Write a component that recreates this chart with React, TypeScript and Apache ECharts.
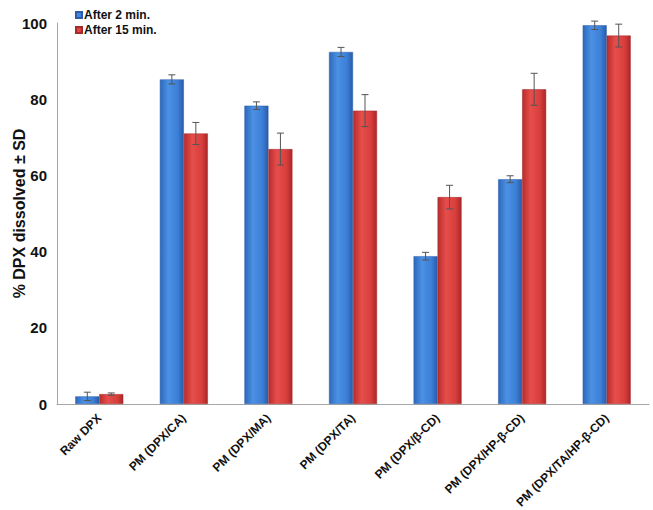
import React, { useEffect, useRef } from "react";
import * as echarts from "echarts";

const categories = [
  "Raw DPX",
  "PM (DPX/CA)",
  "PM (DPX/MA)",
  "PM (DPX/TA)",
  "PM (DPX/β-CD)",
  "PM (DPX/HP-β-CD)",
  "PM (DPX/TA/HP-β-CD)",
];
const after2 = [2.0, 85.2, 78.3, 92.4, 38.8, 59.0, 99.4];
const after2Sd = [1.1, 1.2, 1.0, 1.2, 1.0, 0.9, 1.1];
const after15 = [2.6, 71.0, 66.9, 77.0, 54.3, 82.6, 96.7];
const after15Sd = [0.3, 2.9, 4.2, 4.2, 3.1, 4.2, 3.0];
const yTicks = { min: 0, max: 100, interval: 20 };

const BAR_W = 24;

const blueGrad = new echarts.graphic.LinearGradient(0, 0, 1, 0, [
  { offset: 0, color: "#2d68bc" },
  { offset: 0.35, color: "#4b91e4" },
  { offset: 0.75, color: "#3c7fd7" },
  { offset: 1, color: "#2a5ba8" },
]);
const redGrad = new echarts.graphic.LinearGradient(0, 0, 1, 0, [
  { offset: 0, color: "#b82c2c" },
  { offset: 0.35, color: "#e64e4b" },
  { offset: 0.75, color: "#d83e3c" },
  { offset: 1, color: "#aa2727" },
]);

function errorSeries(vals: number[], sds: number[], offset: number) {
  return {
    type: "custom",
    silent: true,
    z: 10,
    data: vals.map((v, i) => [i, v, sds[i]]),
    renderItem: (params: any, api: any) => {
      const i = api.value(0);
      const v = api.value(1);
      const sd = api.value(2);
      const top = api.coord([i, v + sd]);
      const bot = api.coord([i, Math.max(0, v - sd)]);
      const x = top[0] + offset;
      const cap = 3.5;
      const style = { stroke: "#555", lineWidth: 1 };
      return {
        type: "group",
        children: [
          { type: "line", shape: { x1: x, y1: top[1], x2: x, y2: bot[1] }, style },
          { type: "line", shape: { x1: x - cap, y1: top[1], x2: x + cap, y2: top[1] }, style },
          { type: "line", shape: { x1: x - cap, y1: bot[1], x2: x + cap, y2: bot[1] }, style },
        ],
      };
    },
  };
}

export default function App() {
  const ref = useRef<HTMLDivElement>(null);
  useEffect(() => {
    if (!ref.current) return;
    const chart = echarts.init(ref.current, null, { renderer: "svg" });
    chart.setOption({
      animation: false,
      backgroundColor: "#ffffff",
      textStyle: { fontFamily: "Liberation Sans, Arial, sans-serif" },
      legend: {
        orient: "vertical",
        left: 70,
        top: 4,
        itemWidth: 6,
        itemHeight: 6,
        itemGap: 3,
        icon: "rect",
        textStyle: { fontSize: 12, fontWeight: "bold", color: "#111", padding: [0, 0, 0, -3] },
        data: ["After 2 min.", "After 15 min."],
      },
      grid: { left: 57, right: 4, top: 23, bottom: 106, outerBoundsMode: "none", containLabel: false },
      xAxis: {
        type: "category",
        data: categories,
        axisLine: { lineStyle: { color: "#a6a6a6" } },
        axisTick: { show: false },
        axisLabel: {
          rotate: 45,
          interval: 0,
          margin: 12,
          fontSize: 12,
          fontWeight: "bold",
          color: "#111",
        },
      },
      yAxis: {
        type: "value",
        min: yTicks.min,
        max: yTicks.max,
        interval: yTicks.interval,
        name: "% DPX dissolved ± SD",
        nameLocation: "middle",
        nameGap: 30,
        nameMoveOverlap: false,
        nameTextStyle: { fontSize: 16, fontWeight: "bold", color: "#111" },
        axisLine: { show: true, lineStyle: { color: "#a6a6a6" } },
        axisTick: { show: false },
        splitLine: { show: false },
        axisLabel: { fontSize: 15, fontWeight: "bold", color: "#111", margin: 10 },
      },
      series: [
        {
          name: "After 2 min.",
          type: "bar",
          data: after2,
          barWidth: BAR_W,
          barGap: "0%",
          color: "#3c7fd7",
          itemStyle: { color: blueGrad, borderColor: "#2a5ea8", borderWidth: 0.5 },
        },
        {
          name: "After 15 min.",
          type: "bar",
          data: after15,
          barWidth: BAR_W,
          barGap: "0%",
          color: "#d83e3c",
          itemStyle: { color: redGrad, borderColor: "#a52a2a", borderWidth: 0.5 },
        },
        errorSeries(after2, after2Sd, -BAR_W / 2),
        errorSeries(after15, after15Sd, BAR_W / 2),
      ],
    });
    return () => chart.dispose();
  }, []);
  return (
    <div
      ref={ref}
      style={{ position: "fixed", left: 0, top: 0, width: 653, height: 510 }}
    />
  );
}
